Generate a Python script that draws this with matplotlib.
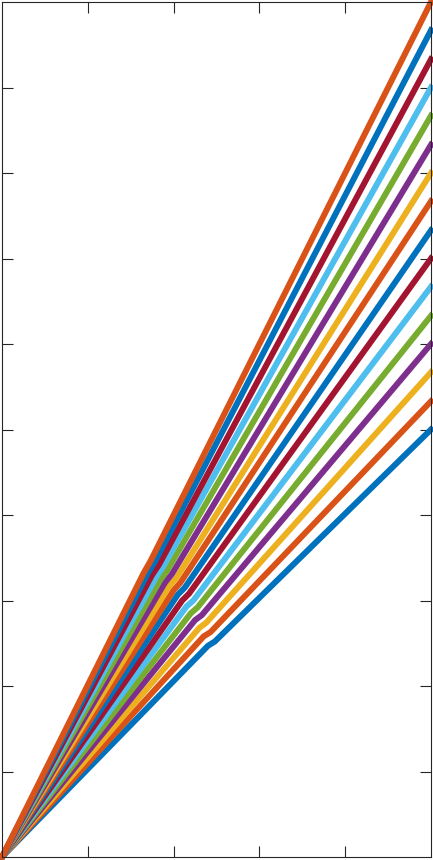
import matplotlib
matplotlib.use('Agg')
import matplotlib.pyplot as plt

# MATLAB 기본 색 순서
colors = ['#0072BD', '#D95319', '#EDB120', '#7E2F8E', '#77AC30', '#4DBEEE', '#A2142F']

# 각 선: (0,0) -> 꺾이는 점 a -> 꺾이는 점 b -> (5, 끝값)
y_end = [5.00, 5.33, 5.67, 6.00, 6.33, 6.67, 7.00, 7.33,
         7.67, 8.00, 8.33, 8.67, 9.00, 9.33, 9.67, 10.00]
x_a = [2.40, 2.35, 2.30, 2.25, 2.20, 2.15, 2.10, 2.05,
       2.00, 1.95, 1.90, 1.85, 1.80, 1.75, 1.70, 1.65]
y_a = [2.47, 2.58, 2.68, 2.77, 2.85, 2.93, 3.00, 3.07,
       3.12, 3.17, 3.21, 3.25, 3.28, 3.30, 3.32, 3.32]
x_b = [2.48, 2.43, 2.38, 2.33, 2.28, 2.23, 2.18, 2.13,
       2.08, 2.03, 1.98, 1.93, 1.88, 1.83, 1.78, 1.73]
y_b = [2.52, 2.63, 2.74, 2.83, 2.92, 3.00, 3.08, 3.15,
       3.21, 3.26, 3.31, 3.36, 3.40, 3.42, 3.45, 3.46]

fig = plt.figure(figsize=(4.33, 8.60), dpi=100)
ax = fig.add_axes([2/433, 3/860, 429/433, 855/860])

for i in range(len(y_end)):
    xs = [0, x_a[i], x_b[i], 5]
    ys = [0, y_a[i], y_b[i], y_end[i]]
    ax.plot(xs, ys, color=colors[i % 7], linewidth=4.3, clip_on=False)

ax.set_xlim(0, 5)
ax.set_ylim(0, 10)
ax.set_xticks([1, 2, 3, 4])
ax.set_yticks(range(1, 10))
ax.tick_params(direction='in', length=8, width=0.8, color='#262626',
               top=True, right=True, labelbottom=False, labelleft=False)
for s in ax.spines.values():
    s.set_color('#262626')
    s.set_linewidth(0.8)

plt.savefig('out.png', dpi=100)
